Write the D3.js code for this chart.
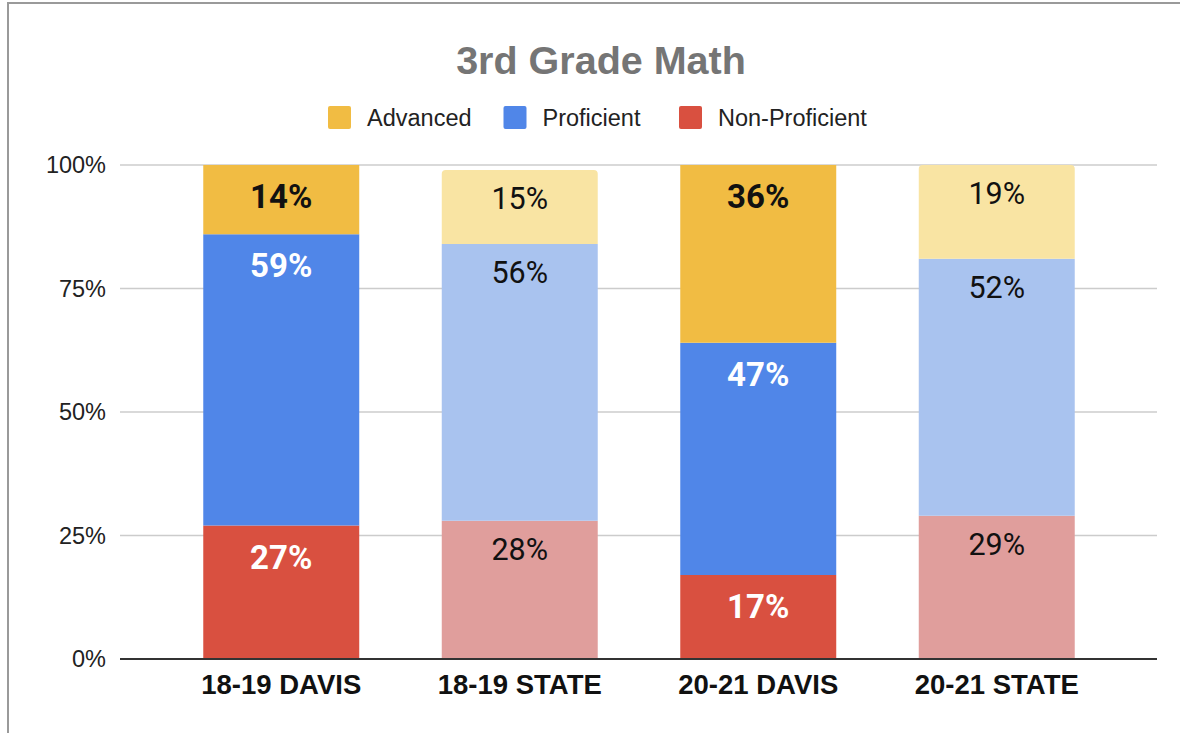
<!DOCTYPE html>
<html>
<head>
<meta charset="utf-8">
<script src="https://cdn.jsdelivr.net/npm/d3@7"></script>
<style>
  html, body { margin: 0; padding: 0; background: #fff; }
  svg { display: block; }
</style>
</head>
<body>
<div id="chart"></div>
<script>
// chart data
const categories = ["18-19 DAVIS", "18-19 STATE", "20-21 DAVIS", "20-21 STATE"];
const seriesNames = ["Advanced", "Proficient", "Non-Proficient"];
const advanced = [14, 15, 36, 19];
const proficient = [59, 56, 47, 52];
const nonProficient = [27, 28, 17, 29];
const yTicks = [0, 25, 50, 75, 100];

const width = 1180, height = 733;

// dark colours for Davis, washed-out ones for State
const darkColors = { "Advanced": "#f1bc43", "Proficient": "#5086e8", "Non-Proficient": "#d95040" };
const lightColors = { "Advanced": "#f9e4a3", "Proficient": "#a9c3ef", "Non-Proficient": "#e09e9c" };

const rows = categories.map((c, i) => ({
  cat: c,
  "Advanced": advanced[i],
  "Proficient": proficient[i],
  "Non-Proficient": nonProficient[i]
}));

const svg = d3.select("#chart").append("svg")
  .attr("width", width)
  .attr("height", height);

// outer frame (only left and top edges show in the shot)
svg.append("rect")
  .attr("x", 8).attr("y", 3)
  .attr("width", width + 20).attr("height", height + 20)
  .attr("fill", "#fff")
  .attr("stroke", "#9a9a9a")
  .attr("stroke-width", 2);

const x = d3.scaleBand()
  .domain(categories)
  .range([162, 1116])
  .paddingInner(0.346)
  .paddingOuter(0.173);

const y = d3.scaleLinear()
  .domain([0, 100])
  .range([659, 165]);

const gridLeft = 120, gridRight = 1157;

// gridlines
svg.append("g")
  .selectAll("line")
  .data(yTicks.filter(t => t > 0))
  .enter()
  .append("line")
  .attr("x1", gridLeft).attr("x2", gridRight)
  .attr("y1", d => y(d)).attr("y2", d => y(d))
  .attr("stroke", "#cccccc")
  .attr("stroke-width", 1.5);

// y axis labels
const yAxis = svg.append("g")
  .attr("transform", "translate(" + gridLeft + ",0)")
  .call(d3.axisLeft(y).tickValues(yTicks).tickFormat(d => d + "%").tickSize(0).tickPadding(14));
yAxis.select(".domain").remove();
yAxis.selectAll("text")
  .attr("font-family", "'Liberation Sans', Arial, sans-serif")
  .attr("font-size", 23.5)
  .attr("fill", "#222");

// stacked bars
const stack = d3.stack().keys(["Non-Proficient", "Proficient", "Advanced"]);
const layers = stack(rows);

const isState = d => d.data.cat.indexOf("STATE") >= 0;

function roundTopRect(x0, y0, w, h, r) {
  return "M" + x0 + "," + (y0 + h) +
    "V" + (y0 + r) +
    "Q" + x0 + "," + y0 + " " + (x0 + r) + "," + y0 +
    "H" + (x0 + w - r) +
    "Q" + (x0 + w) + "," + y0 + " " + (x0 + w) + "," + (y0 + r) +
    "V" + (y0 + h) + "Z";
}

layers.forEach(layer => {
  const key = layer.key;
  const g = svg.append("g");
  g.selectAll("path")
    .data(layer)
    .enter()
    .append("path")
    .attr("d", d => {
      const x0 = x(d.data.cat), w = x.bandwidth();
      const y0 = y(d[1]), h = y(d[0]) - y(d[1]);
      const r = (key === "Advanced" && isState(d)) ? 4 : 0;
      return roundTopRect(x0, y0, w, h, r);
    })
    .attr("fill", d => isState(d) ? lightColors[key] : darkColors[key]);

  // value labels near the top of each segment
  g.selectAll("text")
    .data(layer)
    .enter()
    .append("text")
    .attr("x", d => x(d.data.cat) + x.bandwidth() / 2)
    .attr("y", d => y(d[1]) + (isState(d) ? 39 : 43))
    .attr("text-anchor", "middle")
    .attr("font-family", "Roboto, sans-serif")
    .attr("font-size", d => isState(d) ? 30.5 : 33)
    .attr("font-weight", d => isState(d) ? 400 : 700)
    .attr("fill", d => (isState(d) || key === "Advanced") ? "#111" : "#fff")
    .text(d => (d[1] - d[0]) + "%");
});

// baseline
svg.append("line")
  .attr("x1", gridLeft).attr("x2", gridRight)
  .attr("y1", y(0)).attr("y2", y(0))
  .attr("stroke", "#333")
  .attr("stroke-width", 2);

// x axis labels
const xAxis = svg.append("g")
  .attr("transform", "translate(0," + y(0) + ")")
  .call(d3.axisBottom(x).tickSize(0).tickPadding(15));
xAxis.select(".domain").remove();
xAxis.selectAll("text")
  .attr("font-family", "'Liberation Sans', Arial, sans-serif")
  .attr("font-size", 27.5)
  .attr("font-weight", "bold")
  .attr("fill", "#111");

// title
svg.append("text")
  .attr("x", 601).attr("y", 74)
  .attr("text-anchor", "middle")
  .attr("font-family", "'Liberation Sans', Arial, sans-serif")
  .attr("font-size", 39.5)
  .attr("font-weight", "bold")
  .attr("fill", "#757575")
  .text("3rd Grade Math");

// legend
const legendStep = 175.5;
const legend = svg.append("g").attr("transform", "translate(328,106)");
seriesNames.forEach((name, i) => {
  const item = legend.append("g").attr("transform", "translate(" + (i * legendStep) + ",0)");
  item.append("rect")
    .attr("x", 0).attr("y", 0)
    .attr("width", 23).attr("height", 23)
    .attr("rx", 2)
    .attr("fill", darkColors[name]);
  item.append("text")
    .attr("x", 39).attr("y", 19.5)
    .attr("font-family", "'Liberation Sans', Arial, sans-serif")
    .attr("font-size", 23.5)
    .attr("fill", "#222")
    .text(name);
});
</script>
</body>
</html>
